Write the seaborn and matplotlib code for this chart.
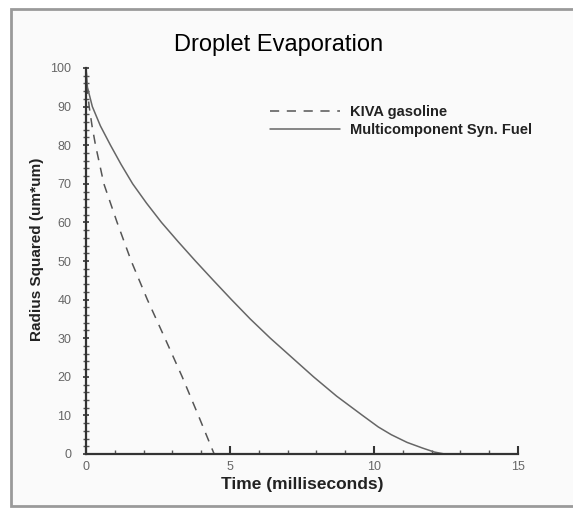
import matplotlib
matplotlib.use("Agg")
import matplotlib.pyplot as plt
from matplotlib.patches import Rectangle
from matplotlib.ticker import MultipleLocator
import seaborn as sns
import pandas as pd

# Squared droplet radius (um*um) against time (ms)
kiva_time = [0, 0.04, 0.11, 0.21, 0.33, 0.62, 1.08, 1.57, 2.13, 2.74, 3.34, 3.9, 4.45]
kiva_r2 = [100, 95, 90, 85, 80, 70, 60, 50, 40, 30, 20, 10, 0]

syn_time = [0, 0.05, 0.22, 0.5, 0.85, 1.22, 1.62, 2.1, 2.62, 3.2, 3.8, 4.42, 5.05,
            5.7, 6.4, 7.15, 7.9, 8.7, 9.6, 10.15, 10.6, 11.15, 11.7, 12.1, 12.45]
syn_r2 = [100, 95, 90, 85, 80, 75, 70, 65, 60, 55, 50, 45, 40,
          35, 30, 25, 20, 15, 10, 7, 5, 3, 1.5, 0.5, 0]

series_names = ["KIVA gasoline", "Multicomponent Syn. Fuel"]
x_ticks = [0, 5, 10, 15]
y_ticks = [0, 10, 20, 30, 40, 50, 60, 70, 80, 90, 100]

df = pd.concat([
    pd.DataFrame({"time": kiva_time, "r2": kiva_r2, "fuel": series_names[0]}),
    pd.DataFrame({"time": syn_time, "r2": syn_r2, "fuel": series_names[1]}),
])

sns.set_style("ticks")
plt.rcParams["font.family"] = ["Liberation Sans", "DejaVu Sans"]

W, H = 573, 508
fig = plt.figure(figsize=(W / 100, H / 100), dpi=100)
fig.patch.set_facecolor("white")
# page frame
fig.add_artist(Rectangle((11 / W, 1 - 506 / H), 1.2, (506 - 9) / H,
                         transform=fig.transFigure, facecolor="#fafafa",
                         edgecolor="#9a9a9a", linewidth=2.0, zorder=-10))

ax = fig.add_axes([86 / W, 1 - 454 / H, 432 / W, 386 / H])
ax.set_facecolor("none")

sns.lineplot(data=df, x="time", y="r2", style="fuel", hue="fuel",
             palette={series_names[0]: "#555555", series_names[1]: "#666666"},
             dashes={series_names[0]: (6, 5), series_names[1]: ""},
             estimator=None, sort=False, linewidth=1.1, ax=ax, legend=False,
             clip_on=False)

ax.set_xlim(0, 15)
ax.set_ylim(0, 100)
ax.set_xticks(x_ticks)
ax.set_yticks(y_ticks)
ax.xaxis.set_minor_locator(MultipleLocator(1))
ax.yaxis.set_minor_locator(MultipleLocator(2))
sns.despine(ax=ax)
for s in ("left", "bottom"):
    ax.spines[s].set_linewidth(1.6)
    ax.spines[s].set_color("#333333")
ax.tick_params(axis="x", which="major", direction="in", length=6, width=1.5,
               color="#333333", labelsize=9, labelcolor="#666666", pad=5)
ax.tick_params(axis="x", which="minor", direction="in", length=3, width=1.0,
               color="#555555")
ax.tick_params(axis="y", which="major", direction="inout", length=5, width=1.2,
               color="#333333", labelsize=9, labelcolor="#666666", pad=8)
ax.tick_params(axis="y", which="minor", direction="inout", length=4, width=1.0,
               color="#555555")
ax.set_xlabel("")
ax.set_ylabel("")

fig.text(279 / W, 1 - 45 / H, "Droplet Evaporation", ha="center", va="center",
         fontsize=17, color="#000000")
fig.text(302 / W, 1 - 485 / H, "Time (milliseconds)", ha="center", va="center",
         fontsize=12.5, fontweight="bold", color="#222222")
fig.text(37 / W, 1 - 249 / H, "Radius Squared (um*um)", ha="center", va="center",
         rotation=90, fontsize=11, fontweight="bold", color="#222222")

handles = ax.get_lines()[:2]
leg = ax.legend(handles, series_names, loc="center left",
                bbox_to_anchor=(270 / W, 1 - 121 / H), bbox_transform=fig.transFigure,
                frameon=False, fontsize=10.5, handlelength=4.8, handletextpad=0.7,
                labelspacing=0.25, borderpad=0, borderaxespad=0)
for t in leg.get_texts():
    t.set_fontweight("bold")
    t.set_color("#222222")

fig.savefig("out.png", dpi=100, facecolor=fig.get_facecolor())
